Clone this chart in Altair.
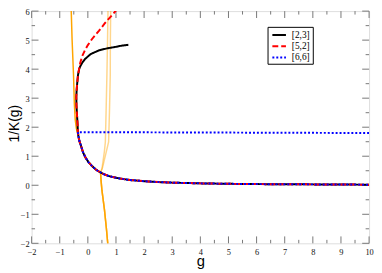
import altair as alt
import pandas as pd

# ---- data ----
series_names = ["[2,3]", "[5,2]", "[6,6]"]
series_colors = ["#000000", "#ff0000", "#0000ff"]
series_dashes = [[1, 0], [6, 3], [2, 2]]

# common lower branch (from the turning region down to g = 10)
low_g = [-0.355, -0.33, -0.30, -0.25, -0.17, -0.08, 0.02, 0.15, 0.30, 0.45, 0.60, 0.74, 0.90, 1.09, 1.5, 2.0, 2.5, 3.0, 4.0, 5.0, 6.0, 7.0, 8.0, 10.0]
low_y = [1.83, 1.66, 1.52, 1.38, 1.13, 0.95, 0.80, 0.66, 0.53, 0.44, 0.37, 0.32, 0.28, 0.24, 0.18, 0.14, 0.11, 0.09, 0.065, 0.05, 0.04, 0.035, 0.03, 0.02]

# [2,3] upper branch (path from its right end to the turning point)
b_up_g = [1.44, 1.2, 1.0, 0.7, 0.4, 0.1, -0.1, -0.2, -0.27, -0.31, -0.35, -0.38, -0.40, -0.41, -0.405, -0.385, -0.365]
b_up_y = [4.84, 4.81, 4.77, 4.72, 4.65, 4.52, 4.35, 4.22, 4.10, 4.00, 3.80, 3.50, 3.25, 3.05, 2.75, 2.40, 2.10]

# [5,2] upper branch
r_up_g = [1.05, 0.85, 0.62, 0.4, 0.15, 0.0, -0.1, -0.2, -0.27, -0.31, -0.35, -0.38, -0.40, -0.41, -0.405, -0.385, -0.365]
r_up_y = [6.08, 5.85, 5.60, 5.33, 5.04, 4.83, 4.66, 4.45, 4.22, 4.02, 3.80, 3.50, 3.25, 3.05, 2.75, 2.40, 2.10]

# [6,6] flat part
f_g = [10.0]
f_y = [1.8]

# orange curves
o1_g = [-0.60, -0.56, -0.51, -0.48, -0.45, -0.41, -0.37, -0.33, -0.30, -0.25, -0.17, -0.08, 0.02, 0.15, 0.30, 0.45]
o1_y = [6.30, 5.00, 3.80, 2.80, 2.27, 1.97, 1.80, 1.66, 1.52, 1.38, 1.13, 0.95, 0.80, 0.66, 0.53, 0.44]
o2_g = [0.72, 0.70, 0.678, 0.65, 0.622, 0.587, 0.50, 0.45]
o2_y = [6.30, 5.00, 3.82, 2.60, 1.49, 1.16, 0.56, 0.44]
o3_g = [0.815, 0.80, 0.797, 0.77, 0.738, 0.657, 0.52, 0.45]
o3_y = [6.30, 5.00, 3.82, 2.60, 1.49, 1.16, 0.60, 0.44]
tail_g = [0.47, 0.50, 0.59, 0.66, 0.71, 0.73]
tail_y = [0.16, -0.17, -0.84, -1.50, -2.03, -2.30]

x_major = list(range(-2, 11))
x_minor = [v + 0.5 for v in range(-2, 10)]
y_major = list(range(-2, 7))
y_minor = [v + 0.5 for v in range(-2, 6)]

# ---- build tables ----
def path(name, gs, ys):
    return pd.DataFrame({"series": name, "g": gs, "y": ys, "i": range(len(gs))})

black = path("[2,3]", b_up_g + low_g, b_up_y + low_y)
red = path("[5,2]", r_up_g + low_g, r_up_y + low_y)
blue = path("[6,6]", f_g + low_g, f_y + low_y)
orange1 = path("o1", o1_g + tail_g, o1_y + tail_y)
orange2 = path("o2", o2_g + tail_g, o2_y + tail_y)
orange3 = path("o3", o3_g + tail_g, o3_y + tail_y)

SERIF = "Liberation Serif, Times New Roman, serif"
SANS = "Liberation Sans, Arial, sans-serif"

W, H = 343, 236
xscale = alt.Scale(domain=[-2, 10], nice=False, zero=False)
yscale = alt.Scale(domain=[-2, 6], nice=False, zero=False)
cscale = alt.Scale(domain=series_names, range=series_colors)
dscale = alt.Scale(domain=series_names, range=series_dashes)

xaxis = alt.Axis(values=x_major, format="d", title="g", grid=False, domain=False,
                 ticks=True, tickSize=0, labelPadding=4, labelFont=SERIF,
                 labelFontSize=8.5, labelColor="#111", labelFlush=False,
                 titleFont=SANS, titleFontSize=15, titleFontWeight="normal",
                 titleColor="#000", titleY=23, titleBaseline="alphabetic")
yaxis = alt.Axis(values=y_major, format="d", title="1/K(g)", grid=False, domain=False,
                 ticks=True, tickSize=0, labelPadding=2.5, labelFont=SERIF,
                 labelFontSize=8.5, labelColor="#111", labelFlush=False,
                 titleFont=SANS, titleFontSize=14, titleFontWeight="normal",
                 titleColor="#000", titleX=-17, titleY=114, titleAngle=270,
                 titleAlign="center", titleBaseline="middle")

X = lambda f: alt.X(f, scale=xscale, axis=xaxis, title="g")
Y = lambda f: alt.Y(f, scale=yscale, axis=yaxis, title="1/K(g)")

def orange_layer(df, op):
    return alt.Chart(df).mark_line(color="#ffa500", strokeWidth=1.5, opacity=op, clip=True).encode(
        x=X("g:Q"), y=Y("y:Q"), order="i:Q",
    )

def main_layer(df):
    return alt.Chart(df).mark_line(strokeWidth=2, clip=True).encode(
        x=X("g:Q"), y=Y("y:Q"),
        color=alt.Color("series:N", scale=cscale, legend=None),
        strokeDash=alt.StrokeDash("series:N", scale=dscale, legend=None),
        order="i:Q",
    )

tick_color = "#777"
xt_major = pd.DataFrame({"v": x_major})
xt_minor = pd.DataFrame({"v": x_minor})
yt_major = pd.DataFrame({"v": y_major})
yt_minor = pd.DataFrame({"v": y_minor})

def xticks(df, length):
    bottom = alt.Chart(df).mark_rule(color=tick_color, strokeWidth=1).encode(
        x=X("v:Q"), y=alt.value(H), y2=alt.value(H - length))
    top = alt.Chart(df).mark_rule(color=tick_color, strokeWidth=1).encode(
        x=X("v:Q"), y=alt.value(0), y2=alt.value(length))
    return [bottom, top]

def yticks(df, length):
    left = alt.Chart(df).mark_rule(color=tick_color, strokeWidth=1).encode(
        y=Y("v:Q"), x=alt.value(0), x2=alt.value(length))
    right = alt.Chart(df).mark_rule(color=tick_color, strokeWidth=1).encode(
        y=Y("v:Q"), x=alt.value(W), x2=alt.value(W - length))
    return [left, right]

# ---- legend box (layout only) ----
one = pd.DataFrame({"k": [0]})
LX0, LX1, LY0, LY1 = 240.3, 286.3, 16.5, 54.0
ROW0, ROWSTEP = 24.3, 11.4
legend_layers = [alt.Chart(one).mark_rect(fill="white", stroke="#000", strokeWidth=1).encode(
    x=alt.value(LX0), x2=alt.value(LX1), y=alt.value(LY0), y2=alt.value(LY1))]
for k, (name, col, dash) in enumerate(zip(series_names, series_colors, series_dashes)):
    ry = ROW0 + k * ROWSTEP
    legend_layers.append(alt.Chart(one).mark_rule(color=col, strokeWidth=2, strokeDash=dash).encode(
        x=alt.value(244.7), x2=alt.value(258.5), y=alt.value(ry)))
    legend_layers.append(alt.Chart(one).mark_text(align="left", baseline="middle", font=SERIF,
                                                  fontSize=9.5, color="#000").encode(
        x=alt.value(264.5), y=alt.value(ry), text=alt.value(name)))

layers = (xticks(xt_major, 7) + xticks(xt_minor, 3.5) + yticks(yt_major, 7) + yticks(yt_minor, 3.5)
          + [orange_layer(orange2, 0.45), orange_layer(orange3, 0.45), orange_layer(orange1, 1.0),
             main_layer(black), main_layer(red), main_layer(blue)]
          + legend_layers)

chart = alt.layer(*layers).properties(
    width=W, height=H,
    autosize=alt.AutoSizeParams(type="none"),
    padding={"left": 24, "top": 1, "right": 5, "bottom": 27},
).configure_view(
    stroke="#000", strokeWidth=1.5
).configure(background="white")

chart.save("out.html", embed_options={"renderer": "svg", "actions": False})
